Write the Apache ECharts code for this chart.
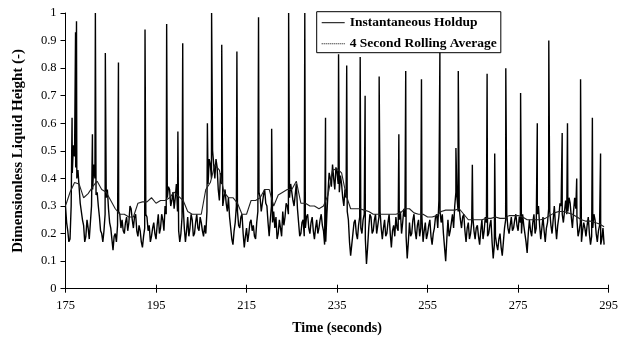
<!DOCTYPE html>
<html>
<head>
<meta charset="utf-8">
<script src="https://cdn.jsdelivr.net/npm/echarts@6/dist/echarts.min.js"></script>
<style>
html,body{margin:0;padding:0;background:#fff;}
#chart{width:621px;height:347px;}
</style>
</head>
<body>
<div id="chart"></div>
<script>
// Instantaneous holdup: samples every 0.5 s starting at 175 s
const baseStart = 175;
const baseStep = 0.5;
const holdupBase = [
  0.30,0.21,0.18,0.42,0.48,0.40,0.37,0.28,0.23,0.19,
  0.22,0.24,0.36,0.40,0.35,0.26,0.20,0.21,0.33,0.29,
  0.22,0.14,0.20,0.23,0.27,0.25,0.20,0.26,0.24,0.29,
  0.22,0.27,0.19,0.21,0.15,0.22,0.26,0.23,0.19,0.24,
  0.18,0.27,0.22,0.25,0.30,0.33,0.36,0.32,0.29,0.38,
  0.21,0.20,0.30,0.17,0.26,0.22,0.25,0.20,0.27,0.21,
  0.24,0.19,0.20,0.38,0.45,0.50,0.40,0.44,0.32,0.38,
  0.33,0.31,0.33,0.22,0.16,0.24,0.28,0.22,0.27,0.15,
  0.22,0.20,0.25,0.23,0.18,0.28,0.33,0.31,0.36,0.30,
  0.19,0.30,0.28,0.26,0.20,0.22,0.28,0.26,0.30,0.33,
  0.35,0.30,0.38,0.24,0.20,0.25,0.22,0.27,0.20,0.26,
  0.18,0.25,0.22,0.27,0.21,0.17,0.35,0.40,0.45,0.36,
  0.42,0.35,0.38,0.30,0.33,0.25,0.12,0.20,0.25,0.18,
  0.26,0.20,0.27,0.09,0.22,0.26,0.21,0.27,0.23,0.28,
  0.18,0.25,0.20,0.27,0.15,0.23,0.26,0.21,0.28,0.24,
  0.26,0.11,0.24,0.20,0.27,0.18,0.25,0.22,0.17,0.24,
  0.20,0.25,0.16,0.22,0.27,0.32,0.24,0.20,0.10,0.25,
  0.21,0.27,0.30,0.33,0.29,0.22,0.27,0.17,0.24,0.20,
  0.26,0.18,0.23,0.16,0.25,0.21,0.24,0.20,0.25,0.11,
  0.19,0.14,0.20,0.12,0.22,0.27,0.20,0.26,0.22,0.27,
  0.21,0.24,0.27,0.20,0.13,0.25,0.19,0.27,0.22,0.30,
  0.18,0.26,0.17,0.24,0.28,0.20,0.30,0.18,0.26,0.30,
  0.24,0.32,0.28,0.31,0.22,0.33,0.25,0.21,0.17,0.24,
  0.19,0.26,0.16,0.22,0.25,0.17,0.23,0.18,0.16
];
// Instantaneous holdup: samples halfway between the above (175.25 s, 175.75 s, ...)
const holdupMid = [
  0.24,0.17,0.30,0.52,0.44,0.43,0.31,0.25,0.17,0.25,
  0.18,0.30,0.45,0.34,0.30,0.21,0.17,0.27,0.36,0.24,
  0.18,0.19,0.17,0.28,0.22,0.21,0.24,0.21,0.30,0.25,
  0.26,0.21,0.23,0.17,0.19,0.27,0.21,0.17,0.22,0.20,
  0.23,0.20,0.27,0.21,0.27,0.37,0.30,0.35,0.33,0.28,
  0.17,0.26,0.22,0.21,0.19,0.27,0.19,0.24,0.22,0.26,
  0.21,0.23,0.28,0.47,0.40,0.45,0.47,0.36,0.42,0.30,
  0.36,0.28,0.26,0.18,0.21,0.30,0.23,0.26,0.20,0.19,
  0.17,0.24,0.21,0.19,0.24,0.35,0.28,0.34,0.31,0.24,
  0.25,0.24,0.22,0.18,0.25,0.19,0.23,0.31,0.27,0.38,
  0.32,0.34,0.29,0.19,0.24,0.19,0.26,0.22,0.24,0.21,
  0.22,0.20,0.25,0.23,0.16,0.27,0.42,0.37,0.40,0.44,
  0.38,0.41,0.33,0.36,0.28,0.17,0.16,0.24,0.20,0.23,
  0.22,0.25,0.18,0.15,0.27,0.20,0.25,0.20,0.26,0.22,
  0.22,0.19,0.24,0.20,0.21,0.19,0.22,0.25,0.20,0.29,
  0.19,0.17,0.19,0.25,0.21,0.23,0.19,0.26,0.21,0.18,
  0.23,0.19,0.20,0.26,0.22,0.28,0.27,0.15,0.18,0.19,
  0.24,0.22,0.35,0.28,0.25,0.26,0.21,0.22,0.18,0.24,
  0.21,0.22,0.19,0.21,0.18,0.26,0.19,0.23,0.17,0.16,
  0.16,0.18,0.15,0.17,0.25,0.22,0.23,0.21,0.25,0.23,
  0.26,0.20,0.23,0.17,0.20,0.21,0.24,0.20,0.27,0.23,
  0.22,0.21,0.22,0.29,0.23,0.25,0.23,0.23,0.31,0.27,
  0.28,0.27,0.33,0.26,0.28,0.29,0.19,0.24,0.21,0.22,
  0.23,0.20,0.19,0.27,0.20,0.21,0.16,0.22
];
// Slug peaks (time in s, peak height)
const spikeTimes = [
  176.45,177.22,177.43,180.95,181.6,183.8,186.7,192.57,197.35,199.83,
  200.9,206.35,207.28,209.52,212.87,217.65,220.55,224.3,227.87,232.45,
  235.33,237.13,240.11,241.2,244.3,248.65,250.17,253.65,257.72,261.26,
  261.78,264.89,268.15,269.83,272.28,275.55,279.24,281.78,284.74,285.91,
  287.95,288.8,291.41,293.22
];
const spikePeaks = [
  0.62,0.93,0.97,0.56,1.0,0.855,0.82,0.94,0.96,0.57,
  0.89,0.60,1.0,0.885,0.86,0.985,0.58,1.0,1.0,0.62,
  0.85,0.81,0.84,0.70,0.77,0.56,0.79,0.76,0.86,0.51,
  0.79,0.45,0.78,0.49,0.80,0.71,0.60,0.90,0.565,0.60,
  0.40,0.76,0.62,0.49
];
// 4 second rolling average, one value per second from 175 s
const avgStart = 175;
const avgStep = 1;
const rollingAvg = [
  0.30,0.35,0.385,0.38,0.33,0.345,0.37,0.39,0.36,0.35,
  0.32,0.29,0.27,0.27,0.26,0.26,0.31,0.315,0.315,0.33,
  0.31,0.32,0.32,0.33,0.35,0.335,0.32,0.28,0.27,0.27,
  0.27,0.36,0.385,0.45,0.43,0.35,0.33,0.33,0.31,0.27,
  0.27,0.32,0.32,0.33,0.36,0.36,0.30,0.34,0.35,0.36,
  0.36,0.39,0.31,0.31,0.30,0.30,0.29,0.30,0.34,0.43,
  0.435,0.42,0.34,0.29,0.29,0.29,0.285,0.28,0.27,0.27,
  0.27,0.27,0.27,0.27,0.275,0.29,0.29,0.275,0.27,0.27,
  0.26,0.26,0.265,0.28,0.285,0.285,0.285,0.29,0.27,0.25,
  0.25,0.25,0.25,0.255,0.255,0.26,0.255,0.255,0.265,0.265,
  0.265,0.26,0.25,0.25,0.25,0.25,0.255,0.265,0.275,0.28,
  0.28,0.275,0.27,0.26,0.25,0.245,0.245,0.24,0.235,0.225
];
const xMin = 175, xMax = 295, xInterval = 20;
const yMin = 0, yMax = 1, yInterval = 0.1;
const seriesNames = ['Instantaneous Holdup', '4 Second Rolling Average'];

const instData = [];
holdupBase.forEach((v, i) => instData.push([baseStart + i * baseStep, v]));
holdupMid.forEach((v, i) => instData.push([baseStart + baseStep / 2 + i * baseStep, v]));
spikeTimes.forEach((t, i) => instData.push([t, spikePeaks[i]]));
instData.sort((a, b) => a[0] - b[0]);
const avgData = rollingAvg.map((v, i) => [avgStart + i * avgStep, v]);

// legend icons: solid and dotted short line
let dots = '';
for (let k = 0; k < 23; k += 2) dots += 'M' + k + ',0h1v1h-1z';
const solidIcon = 'path://M0,0H23V1H0Z';
const dottedIcon = 'path://' + dots;

const font = 'Liberation Serif';
const chart = echarts.init(document.getElementById('chart'));
chart.setOption({
  animation: false,
  backgroundColor: '#fff',
  grid: { left: 65.5, right: 3.5, top: 13, bottom: 58.3 },
  legend: {
    orient: 'vertical',
    left: 316.7, top: 11.7,
    padding: [4, 4, 2, 5],
    itemGap: 7,
    itemWidth: 23, itemHeight: 14,
    borderColor: '#000', borderWidth: 1,
    backgroundColor: '#fff',
    textStyle: { fontFamily: font, fontSize: 13.5, fontWeight: 'bold', color: '#000' },
    data: [
      { name: seriesNames[0], icon: solidIcon },
      { name: seriesNames[1], icon: dottedIcon }
    ]
  },
  xAxis: [{
    type: 'value', min: xMin, max: xMax, interval: xInterval,
    name: 'Time (seconds)', nameLocation: 'middle', nameGap: 33,
    nameTextStyle: { fontFamily: font, fontSize: 14, fontWeight: 'bold', color: '#000' },
    axisLine: { lineStyle: { color: '#000', width: 1 } },
    axisTick: { show: true, length: 4, lineStyle: { color: '#000' } },
    axisLabel: { fontFamily: font, fontSize: 12.5, color: '#000', margin: 11 },
    splitLine: { show: false }
  }, {
    type: 'value', min: xMin, max: xMax, interval: xInterval, position: 'bottom',
    axisLine: { show: false },
    axisTick: { show: true, inside: true, length: 4, lineStyle: { color: '#000' } },
    axisLabel: { show: false },
    splitLine: { show: false }
  }],
  yAxis: {
    type: 'value', min: yMin, max: yMax, interval: yInterval,
    name: 'Dimensionless Liquid Height (-)', nameLocation: 'middle', nameGap: 40,
    nameTextStyle: { fontFamily: font, fontSize: 15, fontWeight: 'bold', color: '#000' },
    axisLine: { show: true, lineStyle: { color: '#000', width: 1 } },
    axisTick: { show: true, length: 5, lineStyle: { color: '#000' } },
    axisLabel: { fontFamily: font, fontSize: 12.5, color: '#000', margin: 9 },
    splitLine: { show: false }
  },
  series: [{
    name: seriesNames[0], type: 'line', data: instData,
    showSymbol: false, symbol: 'none',
    lineStyle: { color: '#000', width: 1.4 }, itemStyle: { color: '#000' },
    clip: true
  }, {
    name: seriesNames[1], type: 'line', data: avgData,
    showSymbol: false, symbol: 'none',
    lineStyle: { color: '#222', width: 1.1 }, itemStyle: { color: '#000' },
    clip: true
  }]
});
</script>
</body>
</html>
